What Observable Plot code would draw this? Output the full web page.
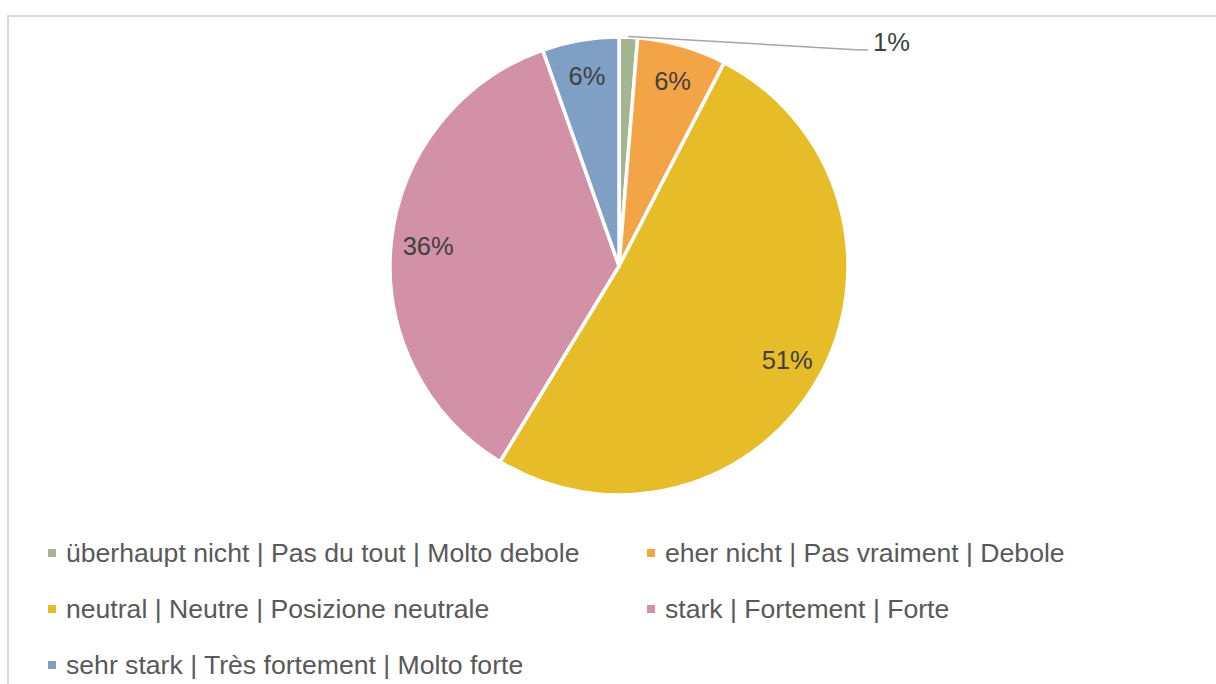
<!DOCTYPE html>
<html><head><meta charset="utf-8">
<script src="https://cdn.jsdelivr.net/npm/d3@7"></script>
<script src="https://cdn.jsdelivr.net/npm/@observablehq/plot@0.6"></script>
<style>
html,body{margin:0;padding:0;background:#fff;overflow:hidden;width:1216px;height:684px;}
#frame{position:absolute;left:7px;top:15px;width:1230px;height:700px;border-left:2px solid #d9d9d9;border-top:2px solid #d9d9d9;}
#chart{position:absolute;left:0;top:0;}
#legend{position:absolute;left:0;top:0;font-family:"Liberation Sans",Arial,sans-serif;font-size:26.6px;color:#595959;}
.item{position:absolute;display:flex;align-items:center;white-space:nowrap;height:30px;line-height:30px;}
.sw{width:8px;height:8px;margin-right:10px;flex:none;}
</style></head>
<body>
<div id="frame"><div id="chart"></div><div id="legend"></div></div>
<script>
// ---- data ----
const categories = [
  "überhaupt nicht | Pas du tout | Molto debole",
  "eher nicht | Pas vraiment | Debole",
  "neutral | Neutre | Posizione neutrale",
  "stark | Fortement | Forte",
  "sehr stark | Très fortement | Molto forte"
];
const values = [1.3, 6.3, 51.1, 35.9, 5.4];
const valueLabels = ["1%", "6%", "51%", "36%", "6%"];
const colors = ["#a5b592", "#f3a447", "#e7bc29", "#d291a6", "#7f9fc4"];

const rows = categories.map((c, i) => ({category: c, value: values[i], label: valueLabels[i], color: colors[i]}));
const arcs = d3.pie().sort(null).value(d => d.value)(rows);
arcs.forEach(a => { a.mid = (a.startAngle + a.endAngle) / 2; });

const font = '"Liberation Sans", Arial, sans-serif';
const labelR = 0.84;
const inside = arcs.slice(1);
const small = arcs[0];
const leader = [
  {x: Math.sin(small.mid) * 1.0, y: Math.cos(small.mid) * 1.005},
  {x: 1.031, y: 0.947},
  {x: 1.083, y: 0.945}
];

const pieMark = (index, scales, values, dimensions, context) => {
  const cx = scales.x(0), cy = scales.y(0), r = scales.x(1) - scales.x(0);
  const arcGen = d3.arc().innerRadius(0).outerRadius(r);
  const g = d3.create("svg:g").attr("transform", `translate(${cx},${cy})`);
  g.selectAll("path").data(arcs).join("path")
    .attr("d", arcGen)
    .attr("fill", d => scales.color ? scales.color(d.data.category) : d.data.color)
    .attr("stroke", "#fff")
    .attr("stroke-width", 3.5)
    .attr("stroke-linejoin", "round");
  return g.node();
};

const chart = Plot.plot({
  width: 1207,
  height: 505,
  marginLeft: 381,
  marginRight: 368,
  marginTop: 20,
  marginBottom: 27,
  x: {domain: [-1, 1], axis: null},
  y: {domain: [-1, 1], axis: null},
  color: {domain: categories, range: colors},
  style: {background: "transparent", overflow: "visible"},
  marks: [
    Plot.dot(rows, {x: () => 0, y: () => 0, fill: "category", r: 0}),
    pieMark,
    Plot.text(inside, {
      x: d => Math.sin(d.mid) * labelR,
      y: d => Math.cos(d.mid) * labelR,
      text: d => d.data.label,
      fill: "#404040", fontSize: 25.5, fontFamily: font
    }),
    Plot.line(leader, {x: "x", y: "y", stroke: "#a6a6a6", strokeWidth: 1.5}),
    Plot.text([small], {
      x: () => 1.107, y: () => 0.978,
      text: d => d.data.label, textAnchor: "start",
      fill: "#404040", fontSize: 25.5, fontFamily: font
    })
  ]
});
document.getElementById("chart").appendChild(chart);

// ---- legend ----
const legend = document.getElementById("legend");
const colX = [39, 638];
const rowY = [536, 592, 648];
rows.forEach((d, i) => {
  const item = document.createElement("div");
  item.className = "item";
  item.style.left = colX[i % 2] + "px";
  item.style.top = (rowY[Math.floor(i / 2)] - 15) + "px";
  const sw = document.createElement("span");
  sw.className = "sw";
  sw.style.background = d.color;
  const t = document.createElement("span");
  t.textContent = d.category;
  item.appendChild(sw); item.appendChild(t);
  legend.appendChild(item);
});
</script>
</body></html>
